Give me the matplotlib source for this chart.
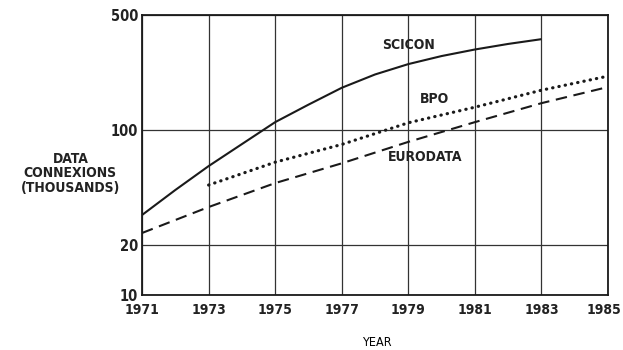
import matplotlib
matplotlib.use("Agg")
import matplotlib.pyplot as plt
import matplotlib.transforms as mtransforms
from matplotlib.ticker import FixedLocator, NullLocator

plt.rcParams['font.family'] = ['DejaVu Sans']
plt.rcParams['font.stretch'] = 'condensed'

# connexions in thousands
scicon_years = [1971, 1972, 1973, 1974, 1975, 1976, 1977, 1978, 1979, 1980, 1981, 1982, 1983]
scicon = [30.6, 43.4, 60.6, 82.4, 112, 143, 181, 218, 252, 282, 309, 334, 357]

bpo_years = [1973, 1975, 1977, 1979, 1981, 1983, 1985]
bpo = [46.5, 64, 82, 111, 138, 175, 213]

eurodata_years = [1971, 1973, 1975, 1977, 1979, 1981, 1983, 1985]
eurodata = [23.8, 34.2, 47.8, 63, 85, 112, 146, 183]

x_ticks = [1971, 1973, 1975, 1977, 1979, 1981, 1983, 1985]
y_ticks = [10, 20, 100, 500]

fig = plt.figure(figsize=(6.23, 3.5), dpi=100)
ax = fig.add_axes([0.228, 0.157, 0.748, 0.8])

ax.set_yscale('log')
ax.set_xlim(1971, 1985)
ax.set_ylim(10, 500)

ax.plot(scicon_years, scicon, color='#1a1a1a', lw=1.5, solid_capstyle='butt')
ax.plot(bpo_years, bpo, color='#1a1a1a', lw=2.3,
        linestyle=(0, (0.1, 1.9)), dash_capstyle='round')
ax.plot(eurodata_years, eurodata, color='#1a1a1a', lw=1.5,
        linestyle=(0, (5.5, 3.2)))

lab_kw = dict(fontsize=10, ha='center', va='center', fontweight='bold', color='#222222')
ax.text(1979.0, 330, 'SCICON', **lab_kw)
ax.text(1979.8, 155, 'BPO', **lab_kw)
ax.text(1979.5, 69, 'EURODATA', **lab_kw)

ax.xaxis.set_major_locator(FixedLocator(x_ticks))
ax.xaxis.set_minor_locator(NullLocator())
ax.yaxis.set_major_locator(FixedLocator(y_ticks))
ax.yaxis.set_minor_locator(NullLocator())
ax.set_xticklabels([str(t) for t in x_ticks])
ax.set_yticklabels([str(t) for t in y_ticks])
ax.tick_params(axis='x', length=0, labelsize=10, pad=6, labelcolor='#222222')
ax.tick_params(axis='y', length=0, labelsize=10.5, pad=3, labelcolor='#222222')
for lab in ax.get_xticklabels() + ax.get_yticklabels():
    lab.set_fontweight('bold')

# keep the last year label inside the canvas
last = ax.get_xticklabels()[-1]
last.set_transform(last.get_transform() +
                   mtransforms.ScaledTranslation(-3 / 72, 0, fig.dpi_scale_trans))

ax.grid(True, color='#333333', lw=0.9)
for s in ax.spines.values():
    s.set_color('#1a1a1a')
    s.set_linewidth(1.3)

fig.text(0.605, 0.02, 'YEAR', fontsize=9, ha='center', va='center')
fig.text(0.113, 0.505, 'DATA\nCONNEXIONS\n(THOUSANDS)', fontsize=10,
         ha='center', va='center', linespacing=1.05, fontweight='bold',
         color='#222222')

fig.savefig('out.png', dpi=100, facecolor='white')
